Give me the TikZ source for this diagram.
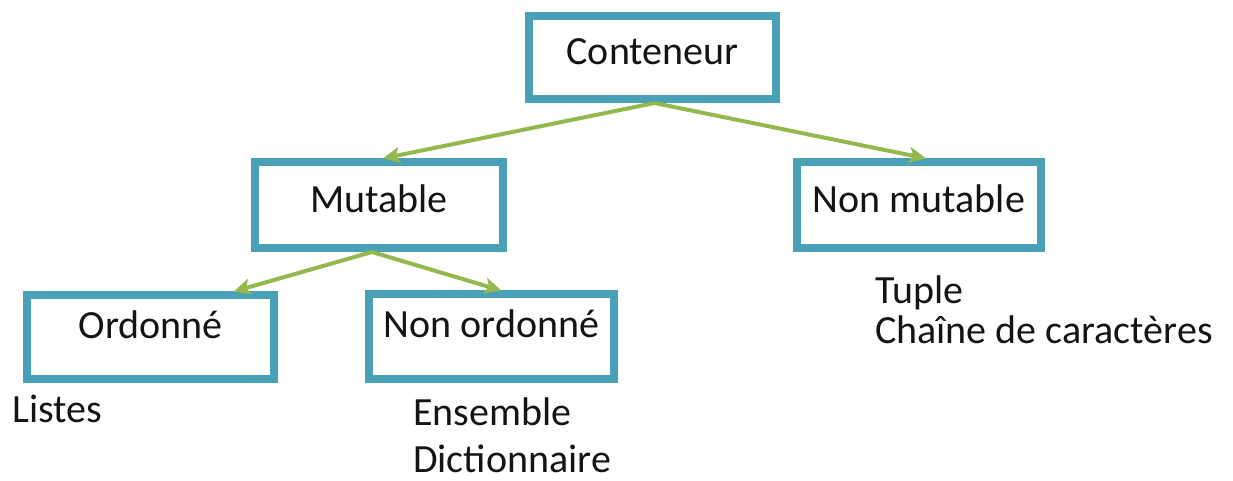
\documentclass[tikz,border=0pt]{standalone}
\usepackage{fontspec}
\setmainfont{Carlito}
\usetikzlibrary{arrows.meta}
\definecolor{boxteal}{RGB}{74,160,182}
\definecolor{arrgreen}{RGB}{146,184,78}
\definecolor{txt}{RGB}{20,20,20}
\tikzset{
  box/.style={draw=boxteal, line width=8pt, fill=white, inner sep=0pt, align=center,
    text=txt, font=\fontsize{40}{48}\selectfont},
  hi/.style={text height=27pt, text depth=12pt},
  lo/.style={text height=27pt, text depth=25pt},
  leaf/.style={inner sep=0pt, anchor=base west, text=txt, font=\fontsize{40}{48}\selectfont},
  arr/.style={draw=arrgreen, line width=4pt, -{Stealth[length=17pt,width=16pt,inset=4pt]}, shorten >=-2pt}
}
\begin{document}
\begin{tikzpicture}[x=1pt,y=-1pt]
\useasboundingbox (0,0) rectangle (1233,481);
\node[box,hi,minimum width=247pt,minimum height=83pt] (cont) at (652.5,57.5) {Conteneur};
\node[box,hi,minimum width=248pt,minimum height=86pt] (mut) at (379,205) {Mutable};
\node[box,hi,minimum width=244pt,minimum height=86pt] (nmut) at (919,205) {Non mutable};
\node[box,lo,minimum width=247pt,minimum height=84pt] (ord) at (150.5,337) {Ordonné};
\node[box,lo,minimum width=245pt,minimum height=85pt] (nord) at (491.5,336.5) {Non ordonné};
\node[leaf] (listes) at (12,422) {Listes};
\node[leaf] (ens) at (413,425) {Ensemble};
\node[leaf] (dict) at (413,472) {Dictionnaire};
\node[leaf] (tup) at (875,303) {Tuple};
\node[leaf] (chaine) at (875,343) {Chaîne de caractères};
\draw[arr] ([xshift=2pt]cont.south) -- ([xshift=6pt]mut.north);
\draw[arr] ([xshift=2pt]cont.south) -- ([xshift=5pt]nmut.north);
\draw[arr] ([xshift=-7pt]mut.south) -- ([xshift=85pt]ord.north);
\draw[arr] ([xshift=-7pt]mut.south) -- ([xshift=8pt]nord.north);
\end{tikzpicture}
\end{document}
